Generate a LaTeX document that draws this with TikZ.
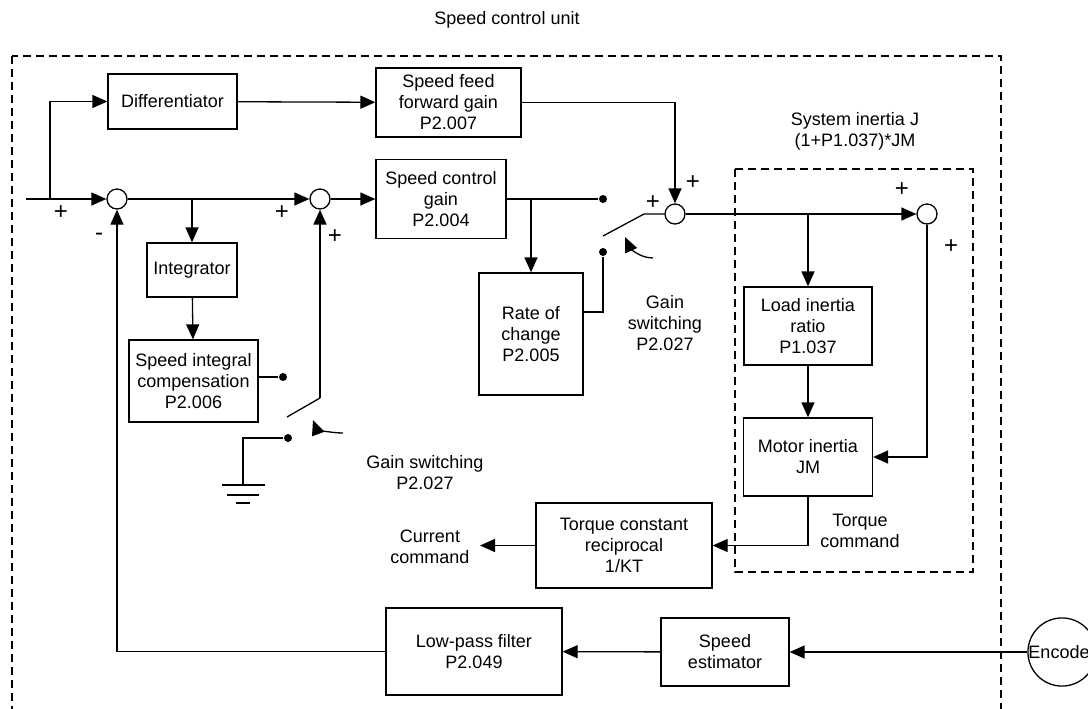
\documentclass[tikz,border=0pt]{standalone}
\usepackage{fontspec}
\setmainfont{Liberation Sans}
\usetikzlibrary{arrows.meta, calc}

\begin{document}
\begin{tikzpicture}[x=0.5pt, y=-0.5pt, line width=0.65pt,
            font=\fontsize{9}{10.5}\selectfont,
            blk/.style={draw, align=center, inner sep=1pt},
            sum/.style={circle, draw, minimum size=10pt, inner sep=0pt},
            dot/.style={circle, fill, minimum size=4pt, inner sep=0pt},
            arr/.style={-{Triangle[length=7.5pt, width=6.5pt]}},
            lbl/.style={align=center, inner sep=0pt},
            sgn/.style={inner sep=0pt, font=\fontsize{12}{12}\selectfont}]
            \clip (0,0) rectangle (1088,708);
            % frames
            \draw[dash pattern=on 4pt off 2.5pt] (12,56) rectangle (1001,760);
            \draw[dash pattern=on 4pt off 2.5pt] (735,169) rectangle (973,572);
            \node[lbl] (title) at (507,20) {Speed control unit};
            \node[lbl] (sysJ) at (855,131) {System inertia J\\(1+P1.037)*JM};
            % blocks
            \foreach \n/\x/\y/\w/\h/\t in {dif/172.5/101.5/129/55/{Differentiator},
                ff/448.5/102.5/145/69/{Speed feed\\forward gain\\P2.007},
                scg/441/199/130/79/{Speed control\\gain\\P2.004},
                intg/192/270/90/54/{Integrator},
                sic/193.5/381/129/82/{Speed integral\\compensation\\P2.006},
                roc/531/334/104/122/{Rate of\\change\\P2.005},
                lir/808/326/128/78/{Load inertia\\ratio\\P1.037},
                mij/808/457/129/78/{Motor inertia\\JM},
                tcr/624/545.5/176/85/{Torque constant\\reciprocal\\1/KT},
                lpf/474/651.5/176/87/{Low-pass filter\\P2.049},
                spe/725/652/128/68/{Speed\\estimator}}{
                \node[blk, minimum width=\w*0.5pt, minimum height=\h*0.5pt] (\n) at (\x,\y) {\t};}
            \foreach \n/\x/\y in {s1/117/199, s2/320/199, s3/675/214, s4/927/214}{
                \node[sum] (\n) at (\x,\y) {};}
            \node[circle, draw, minimum size=34pt, inner sep=0pt] (enc) at (1062,652) {Encoder};
            % switch contacts
            \foreach \n/\x/\y in {d1a/603/199, d1b/603/252, d2a/283/377, d2b/288/438}{
                \node[dot] (\n) at (\x,\y) {};}
            \foreach \x/\y/\s in {61/213/+, 99/237/-, 282/213/+, 335/237/+, 653/203/+,
                                  693/183/+, 902/190/+, 951/247/+}{
                \node[sgn] at (\x,\y) {\s};}
            \coordinate (in) at (26,199);
            \coordinate (br1) at (50,199);
            \coordinate (sw1) at (644,214);
            \coordinate (bl1) at (603,236);
            \coordinate (sw2) at (320,398);
            \coordinate (bl2) at (287,417);
            \coordinate (gnd) at (243,485);
            \coordinate (rocout) at (583,312);
            \coordinate (cur) at (480,545.5);
            % forward path
            \draw[arr] (in) -- (s1);
            \draw[arr] (br1) |- (dif);
            \draw[arr] (dif) -- (ff);
            \draw[arr] (s1) -- (s2);
            \draw[arr] (intg |- s1) -- (intg);
            \draw[arr] (intg) -- (sic);
            \draw (sic.east |- d2a) -- (d2a);
            \draw[arr] (sw2) -- (s2);
            \draw (sw2) -- (bl2);
            \draw (d2b) -| (gnd);
            \draw (222,485) -- (265,485) (227,495) -- (259,495) (236,503) -- (250,503);
            \draw[arr] (s2) -- (scg);
            \draw (scg) -- (d1a);
            \draw[arr] (roc |- scg) -- (roc);
            \draw (rocout) -| (d1b);
            \draw (bl1) -- (sw1) -- (s3);
            \draw[arr] (ff) -| (s3);
            \draw[arr] (s3) -- (s4);
            \draw[arr] (lir |- s3) -- (lir);
            \draw[arr] (lir) -- (mij);
            \draw[arr] (s4) |- (mij);
            \draw[arr] (mij) |- (tcr);
            \draw[arr] (tcr) -- (cur);
            % gain switching arrows
            \draw[arr] (343,433) .. controls (328,433) and (316,428) .. (313,420);
            \draw[arr] (653,258) .. controls (638,258) and (629,246) .. (625,237);
            % feedback path
            \draw[arr] (enc) -- (spe);
            \draw[arr] (spe) -- (lpf);
            \draw[arr] (lpf) -| (s1);
            % labels
            \node[lbl] (gs1) at (665,323) {Gain\\switching\\P2.027};
            \node[lbl] (gs2) at (425,473) {Gain switching\\P2.027};
            \node[lbl] (tqc) at (860,531) {Torque\\command};
            \node[lbl] (cc) at (430,547) {Current\\command};
        \end{tikzpicture}
\end{document}
